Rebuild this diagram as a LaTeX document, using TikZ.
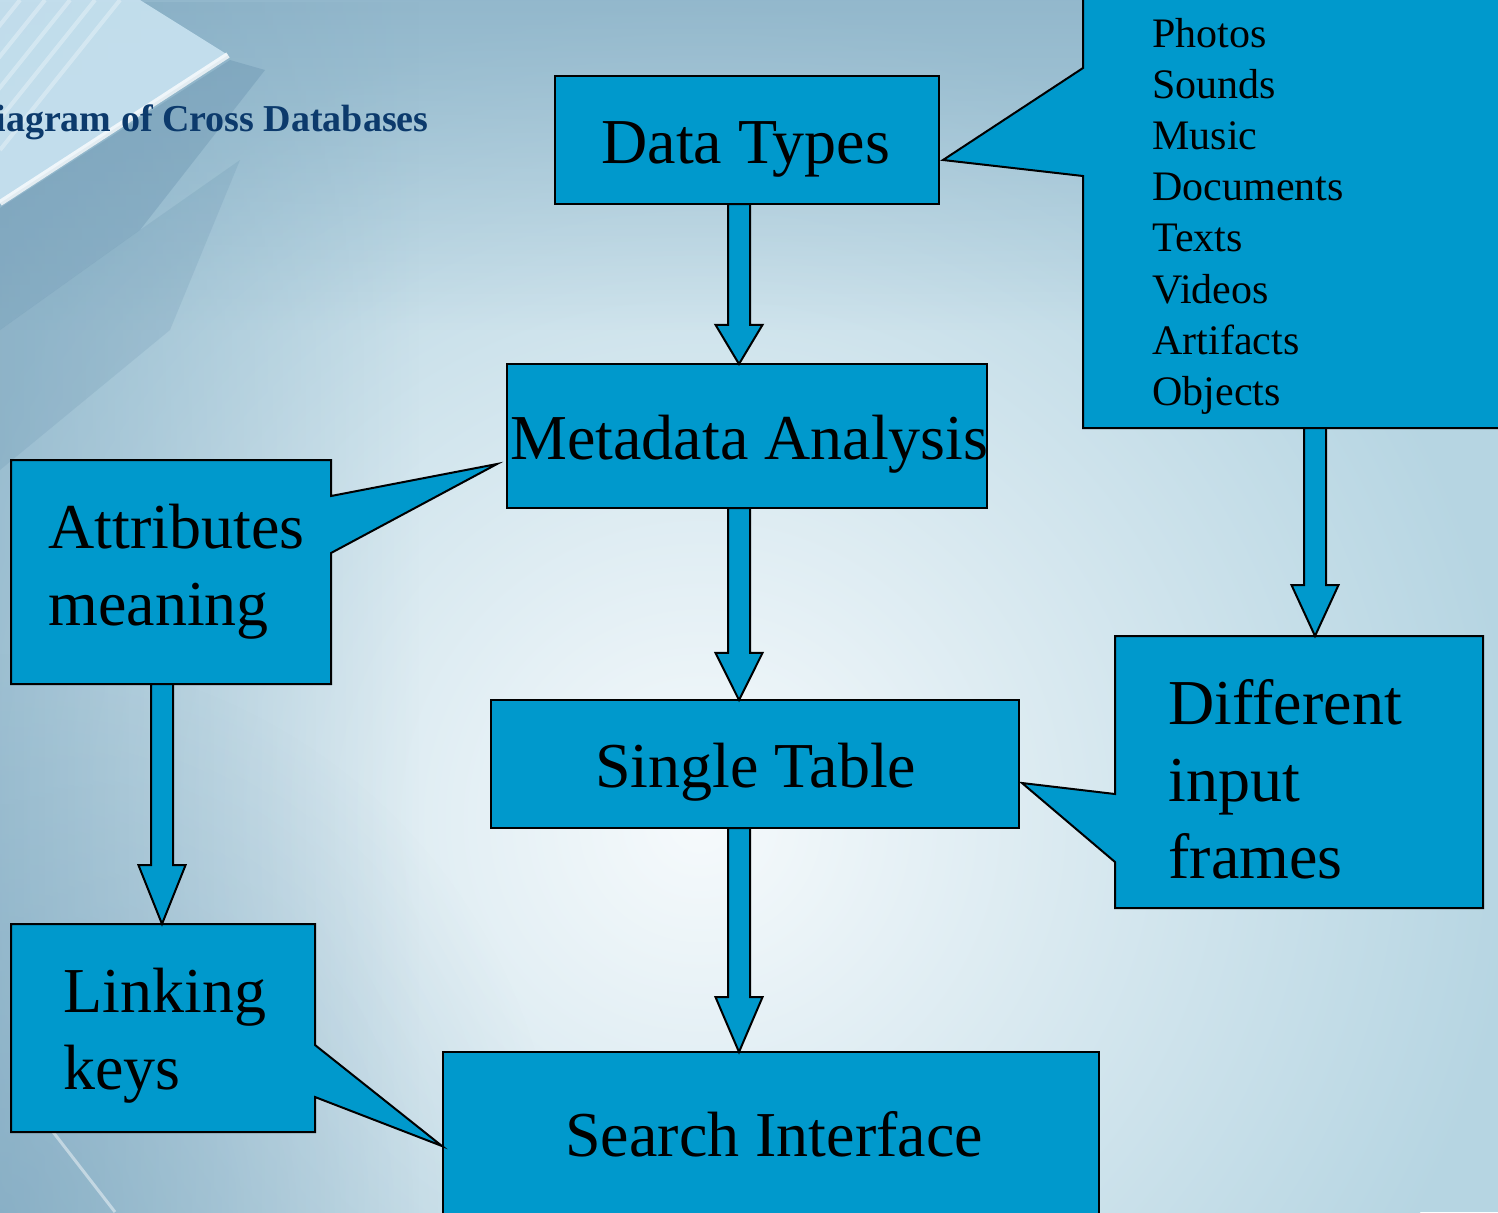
\documentclass[tikz,border=0pt]{standalone}
\usepackage{fontspec}
\setmainfont{Liberation Serif}
\usetikzlibrary{calc,fit,fadings}
\tikzfading[name=cornerfade, inner color=transparent!0, outer color=transparent!100]
\definecolor{boxblue}{RGB}{0,153,204}
\definecolor{titleblue}{RGB}{12,58,108}
\definecolor{bglight}{RGB}{246,250,252}
\definecolor{bgmid}{RGB}{182,213,226}
\definecolor{bgdark}{RGB}{118,160,186}
\definecolor{pagelight}{RGB}{200,226,240}
\definecolor{shadowblue}{RGB}{80,125,158}
\begin{document}
\begin{tikzpicture}[x=0.5pt,y=-0.5pt,
  box/.style={draw=black, line width=1pt, fill=boxblue, inner sep=0pt, outer sep=0pt},
  geo/.style={inner sep=0pt, outer sep=0pt},
  callout/.style={draw=black, line width=1pt, fill=boxblue, line join=miter},
  lbl/.style={font=\fontsize{32}{38.5}\selectfont, inner sep=0pt, anchor=base west, align=left},
  listtxt/.style={font=\fontsize{21}{25.6}\selectfont, inner sep=0pt, anchor=base west},
  barrow/.style={draw=black, line width=1pt, fill=boxblue, line join=miter,
    to path={let \p1=(\tikztostart), \p2=(\tikztotarget) in
      ({\x1-5.5pt},\y1) -- ({\x1-5.5pt},{\y2+0.245*(\y1-\y2)}) --
      ({\x1-11.75pt},{\y2+0.245*(\y1-\y2)}) -- (\x1,\y2) --
      ({\x1+11.75pt},{\y2+0.245*(\y1-\y2)}) -- ({\x1+5.5pt},{\y2+0.245*(\y1-\y2)}) --
      ({\x1+5.5pt},\y1) -- cycle}}]
\useasboundingbox (0,0) rectangle (1498,1212);
% ---------- background ----------
\begin{scope}
\clip (0,0) rectangle (1498,1212);
\fill[bgmid] (0,0) rectangle (1498,1212);
\shade[inner color=bglight, outer color=bgmid] (700,820) circle (820);
\fill[bgdark, path fading=south, opacity=0.55] (0,0) rectangle (1498,330);
\fill[bgdark, path fading=east, opacity=0.45] (0,0) rectangle (420,1212);
\fill[bgdark, path fading=cornerfade, opacity=0.45] (0,1212) circle (560);
% top-left book pages
\fill[pagelight, opacity=0.9] (0,0) -- (140,0) -- (228,55) -- (0,203) -- cycle;
\foreach \d in {20,45,70,95,120}{
  \draw[white, opacity=0.3, line width=2pt] (\d,0) -- ({\d-120},150);
}
\draw[white, opacity=0.75, line width=3pt] (228,55) -- (0,203);
\fill[shadowblue, opacity=0.25] (0,208) -- (230,60) -- (265,70) -- (140,230) -- (0,330) -- cycle;
\fill[shadowblue, opacity=0.15] (0,330) -- (140,230) -- (240,160) -- (170,330) -- (0,470) -- cycle;
\draw[white, opacity=0.45, line width=1.5pt] (50,1128) -- (115,1212);
\end{scope}
% ---------- title ----------
\node[font=\fontsize{19}{23}\selectfont\bfseries, text=titleblue, anchor=base east, inner sep=0pt] (title) at (429,131) {Diagram of Cross Databases};
% ---------- main boxes ----------
\node[box, fit={(555,76) (939,204)}] (dt) {};
\node[box, fit={(507,364) (987,508)}] (md) {};
\node[box, fit={(491,700) (1019,828)}] (st) {};
\node[box, fit={(443,1052) (1099,1230)}] (si) {};
% ---------- callout geometry ----------
\node[geo, fit={(1083,-10) (1510,428)}] (tl) {};
\node[geo, fit={(11,460) (331,684)}] (at) {};
\node[geo, fit={(1115,636) (1483,908)}] (df) {};
\node[geo, fit={(11,924) (315,1132)}] (lk) {};
\coordinate (tlA) at (1083,68);  \coordinate (tlT) at (943,160);  \coordinate (tlB) at (1083,176);
\coordinate (atA) at (331,496);  \coordinate (atT) at (497,464);  \coordinate (atB) at (331,553);
\coordinate (dfA) at (1115,794); \coordinate (dfT) at (1022,783); \coordinate (dfB) at (1115,862);
\coordinate (lkA) at (315,1045); \coordinate (lkT) at (442,1146); \coordinate (lkB) at (315,1097);
\draw[callout] (tl.north west) -- (tl.north east) -- (tl.south east) -- (tl.south west) -- (tlB) -- (tlT) -- (tlA) -- cycle;
\draw[callout] (at.north west) -- (at.north east) -- (atA) -- (atT) -- (atB) -- (at.south east) -- (at.south west) -- cycle;
\draw[callout] (df.north west) -- (df.north east) -- (df.south east) -- (df.south west) -- (dfB) -- (dfT) -- (dfA) -- cycle;
\draw[callout] (lk.north west) -- (lk.north east) -- (lkA) -- (lkT) -- (lkB) -- (lk.south east) -- (lk.south west) -- cycle;
% ---------- block arrows ----------
\coordinate (cx) at (739,0);
\coordinate (rx) at (1315,0);
\coordinate (lx) at (162,0);
\draw[barrow] (dt.south -| cx) to (md.north -| cx);
\draw[barrow] (md.south -| cx) to (st.north -| cx);
\draw[barrow] (st.south -| cx) to (si.north -| cx);
\draw[barrow] (tl.south -| rx) to (df.north -| rx);
\draw[barrow] (at.south -| lx) to (lk.north -| lx);
% ---------- texts ----------
\node[lbl] (dtt) at (601,163) {Data Types};
\node[lbl] (mdt) at (510,459) {Metadata Analysis};
\node[lbl] (stt) at (595,787) {Single Table};
\node[lbl] (sit) at (565,1156) {Search Interface};
\node[lbl] (att) at (48,625) {Attributes\\meaning};
\node[lbl] (dft) at (1168,878) {Different\\input\\frames};
\node[lbl] (lkt) at (63,1089) {Linking\\keys};
\foreach \w [count=\i from 0] in {Photos,Sounds,Music,Documents,Texts,Videos,Artifacts,Objects}{
  \node[listtxt] (li\i) at (1152,{47+51.2*\i}) {\w};
}
\end{tikzpicture}
\end{document}
